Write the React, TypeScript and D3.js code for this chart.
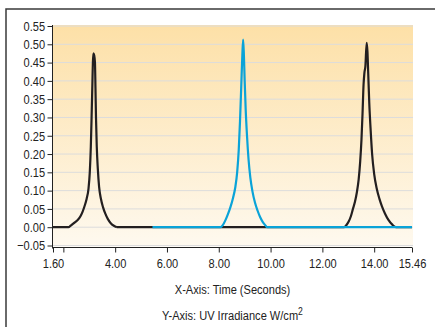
import { useEffect, useRef } from 'react';
import * as d3 from 'd3';

const width = 435;
const height = 327;
const [mt, mr, mb, ml] = [26, 23, 80, 53];

// series: [time (s), irradiance W/cm2]
const black1: [number, number][] = [
    [1.6, 0], [2.2, 0], [2.28, 0.004], [2.38, 0.01], [2.48, 0.015], [2.57, 0.021], [2.66, 0.03],
    [2.74, 0.042], [2.82, 0.058], [2.9, 0.078], [2.97, 0.105], [3.02, 0.15], [3.06, 0.22], [3.09, 0.3],
    [3.12, 0.39], [3.14, 0.45], [3.16, 0.475], [3.19, 0.47], [3.22, 0.45], [3.24, 0.38], [3.26, 0.3],
    [3.29, 0.22], [3.33, 0.16], [3.38, 0.11], [3.45, 0.078], [3.53, 0.055], [3.62, 0.037],
    [3.72, 0.022], [3.83, 0.011], [3.95, 0.004], [4.07, 0]
];

const black2: [number, number][] = [
    [4.07, 0], [12.84, 0], [12.93, 0.006], [13.02, 0.016], [13.1, 0.03], [13.18, 0.05], [13.26, 0.07],
    [13.33, 0.095], [13.4, 0.13], [13.46, 0.18], [13.51, 0.24], [13.55, 0.31], [13.59, 0.39],
    [13.62, 0.42], [13.66, 0.44], [13.71, 0.504], [13.74, 0.48], [13.77, 0.42], [13.81, 0.34],
    [13.86, 0.27], [13.92, 0.2], [14.0, 0.145], [14.1, 0.105], [14.2, 0.078], [14.3, 0.057],
    [14.42, 0.037], [14.55, 0.02], [14.7, 0.007], [14.84, 0], [15.46, 0]
];

const blue: [number, number][] = [
    [5.44, 0], [8.07, 0], [8.15, 0.005], [8.25, 0.018], [8.35, 0.035], [8.45, 0.055], [8.55, 0.08],
    [8.64, 0.11], [8.71, 0.15], [8.77, 0.21], [8.82, 0.29], [8.87, 0.39], [8.91, 0.47], [8.94, 0.513],
    [8.97, 0.47], [9.0, 0.4], [9.04, 0.32], [9.09, 0.25], [9.15, 0.185], [9.22, 0.135], [9.3, 0.098],
    [9.4, 0.067], [9.5, 0.045], [9.6, 0.027], [9.7, 0.014], [9.8, 0.005], [9.87, 0], [15.46, 0]
];

const xTicks = [1.6, 2, 4, 6, 8, 10, 12, 14, 15.46];
const xLabels = ['1.60', '', '4.00', '6.00', '8.00', '10.00', '12.00', '14.00', '15.46'];
const yTicks = [-0.05, 0, 0.05, 0.1, 0.15, 0.2, 0.25, 0.3, 0.35, 0.4, 0.45, 0.5, 0.55];

const font = '"Liberation Sans", Arial, sans-serif';
const fontSize = 13.5;
// narrow the face so it reads like a condensed grotesque
const squeeze = 'scale(0.82,1)';

export default function App() {
    const ref = useRef<SVGSVGElement>(null);

    useEffect(() => {
        const svg = d3.select(ref.current);
        svg.selectAll('*').remove();

        const x = d3.scaleLinear().domain([1.6, 15.46]).range([ml, width - mr]);
        const y = d3.scaleLinear().domain([-0.05, 0.55]).range([height - mb - 1.5, mt]);

        // frame
        svg.append('path')
            .attr('d', `M6,${height}V9H${width}`)
            .attr('fill', 'none')
            .attr('stroke', '#3a3a3a')
            .attr('stroke-width', 1.5);

        const grad = svg.append('defs').append('linearGradient')
            .attr('id', 'bg').attr('x1', 0).attr('y1', 0).attr('x2', 0).attr('y2', 1);
        grad.append('stop').attr('offset', '0%').attr('stop-color', '#fde0a7');
        grad.append('stop').attr('offset', '100%').attr('stop-color', '#fef9ef');

        svg.append('rect')
            .attr('x', ml)
            .attr('y', mt - 1)
            .attr('width', width - mr - ml + 1)
            .attr('height', y(-0.05) - mt + 2)
            .attr('fill', 'url(#bg)');

        // grid
        svg.append('g')
            .selectAll('line')
            .data(yTicks)
            .join('line')
            .attr('x1', ml)
            .attr('x2', width - mr + 1)
            .attr('y1', (d) => y(d))
            .attr('y2', (d) => y(d))
            .attr('stroke', '#dcdcdc')
            .attr('stroke-width', 1);

        const styleText = (sel: d3.Selection<any, any, any, any>) =>
            sel.attr('font-family', font).attr('font-size', fontSize).attr('fill', '#222');

        // y axis
        svg.append('g')
            .attr('transform', `translate(${ml - 0.5},0)`)
            .call(d3.axisLeft(y).tickValues(yTicks).tickFormat(d3.format('.2f')).tickSize(5).tickPadding(4).tickSizeOuter(0))
            .call((g) => g.select('.domain').attr('d', `M0,${mt - 1}V${y(-0.05) + 3}`))
            .call((g) => styleText(g.selectAll('text')).attr('transform', squeeze))
            .call((g) => g.selectAll('line,path').attr('stroke', '#222'));

        // x axis
        svg.append('g')
            .attr('transform', `translate(0,${y(-0.05) + 2})`)
            .call(d3.axisBottom(x).tickValues(xTicks).tickFormat((_d, i) => xLabels[i]).tickSize(5).tickPadding(6).tickSizeOuter(0))
            .call((g) => g.select('.domain').attr('d', `M${ml - 0.5},0H${x(15.46)}`))
            .call((g) => styleText(g.selectAll('text')).attr('transform', squeeze))
            .call((g) => g.selectAll('line,path').attr('stroke', '#222'));

        const line = d3.line<[number, number]>()
            .x((d) => x(d[0]))
            .y((d) => y(d[1]))
            .curve(d3.curveMonotoneX);

        const draw = (data: [number, number][], color: string) =>
            svg.append('path')
                .attr('d', line(data))
                .attr('fill', 'none')
                .attr('stroke', color)
                .attr('stroke-width', 2.2)
                .attr('stroke-linejoin', 'round');

        draw(black1, '#231f20');
        draw(black2, '#231f20');
        draw(blue, '#0aa3d8');

        const cx = (ml + width - mr) / 2;
        styleText(
            svg.append('g')
                .attr('transform', `translate(${cx},294) ${squeeze}`)
                .append('text')
                .attr('text-anchor', 'middle')
        ).text('X-Axis: Time (Seconds)');

        const t = styleText(
            svg.append('g')
                .attr('transform', `translate(${cx},320) ${squeeze}`)
                .append('text')
                .attr('text-anchor', 'middle')
        );
        t.append('tspan').text('Y-Axis: UV Irradiance W/cm');
        t.append('tspan').attr('dy', -5).attr('font-size', 10.5).text('2');
    }, []);

    return (
        <svg
            ref={ref}
            width={width}
            height={height}
            style={{ position: 'absolute', left: 0, top: 0, background: '#fff', display: 'block' }}
        />
    );
}
